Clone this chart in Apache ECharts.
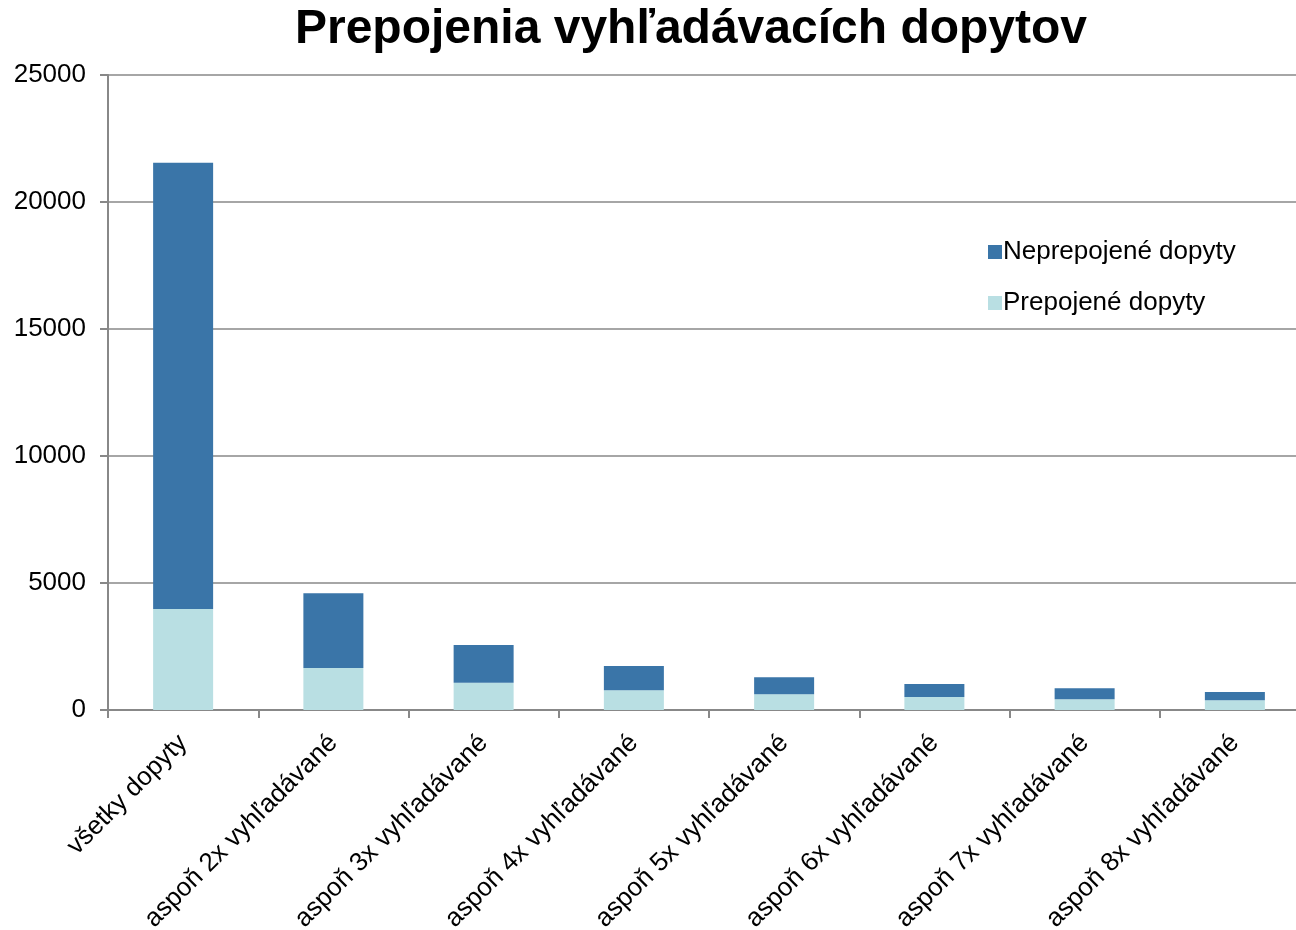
<!DOCTYPE html>
<html>
<head>
<meta charset="utf-8">
<script src="https://cdn.jsdelivr.net/npm/echarts@6/dist/echarts.min.js"></script>
<style>
  html, body { margin: 0; padding: 0; background: #fff; overflow: hidden; }
  /* plocha grafu v origináli presahuje pravý okraj obrázka */
  #chart { width: 1310px; height: 930px; }
</style>
</head>
<body>
<div id="chart"></div>
<script>
const categories = ['všetky dopyty', 'aspoň 2x vyhľadávané', 'aspoň 3x vyhľadávané', 'aspoň 4x vyhľadávané',
  'aspoň 5x vyhľadávané', 'aspoň 6x vyhľadávané', 'aspoň 7x vyhľadávané', 'aspoň 8x vyhľadávané']
// prepojené (spodná časť stĺpca)
const prepojene = [3976, 1654, 1075, 776, 618, 512, 421, 382]
// neprepojené = celkom - prepojené
const celkom = [21547, 4594, 2559, 1732, 1287, 1024, 854, 709]
const neprepojene = celkom.map((v, i) => v - prepojene[i])
const yTicks = [0, 5000, 10000, 15000, 20000, 25000]

let chart = echarts.init(document.getElementById('chart'))

let option = {
    animation: false,
    textStyle: { fontFamily: 'Liberation Sans, Arial, sans-serif' },
    title: {
        text: 'Prepojenia vyhľadávacích dopytov',
        left: 686,
        top: 1,
        textAlign: 'center',
        textStyle: { fontSize: 48, fontWeight: 'bold', color: '#000', fontFamily: 'Liberation Sans, Arial, sans-serif' }
    },
    legend: {
        orient: 'vertical',
        left: 983,
        top: 234,
        itemWidth: 14,
        itemHeight: 14,
        itemGap: 25,
        icon: 'rect',
        textStyle: { fontSize: 26, color: '#000', padding: [0, 0, 0, -4] },
        data: ['Neprepojené dopyty', 'Prepojené dopyty']
    },
    grid: {
        left: 108,
        right: 0,
        top: 75,
        bottom: 220,
        outerBoundsMode: 'none'
    },
    xAxis: {
        type: 'category',
        data: categories,
        axisLine: { lineStyle: { color: '#888', width: 2 } },
        axisTick: { show: true, length: 8, lineStyle: { color: '#888', width: 2 } },
        axisLabel: {
            rotate: 45,
            fontSize: 26,
            color: '#000',
            margin: 29,
            interval: 0
        }
    },
    yAxis: {
        type: 'value',
        min: yTicks[0],
        max: yTicks[yTicks.length - 1],
        interval: 5000,
        axisLine: { show: true, lineStyle: { color: '#888', width: 2 } },
        axisTick: { show: true, length: 8, lineStyle: { color: '#888', width: 2 } },
        splitLine: { lineStyle: { color: '#888', width: 1.5 } },
        axisLabel: { fontSize: 26, color: '#000', margin: 22, formatter: v => String(v) }
    },
    series: [
        {
            name: 'Prepojené dopyty',
            type: 'bar',
            stack: 'spolu',
            barWidth: 60,
            data: prepojene,
            itemStyle: { color: '#b9dfe3' }
        },
        {
            name: 'Neprepojené dopyty',
            type: 'bar',
            stack: 'spolu',
            barWidth: 60,
            data: neprepojene,
            itemStyle: { color: '#3a75a8' }
        }
    ]
}

chart.setOption(option)
</script>
</body>
</html>
